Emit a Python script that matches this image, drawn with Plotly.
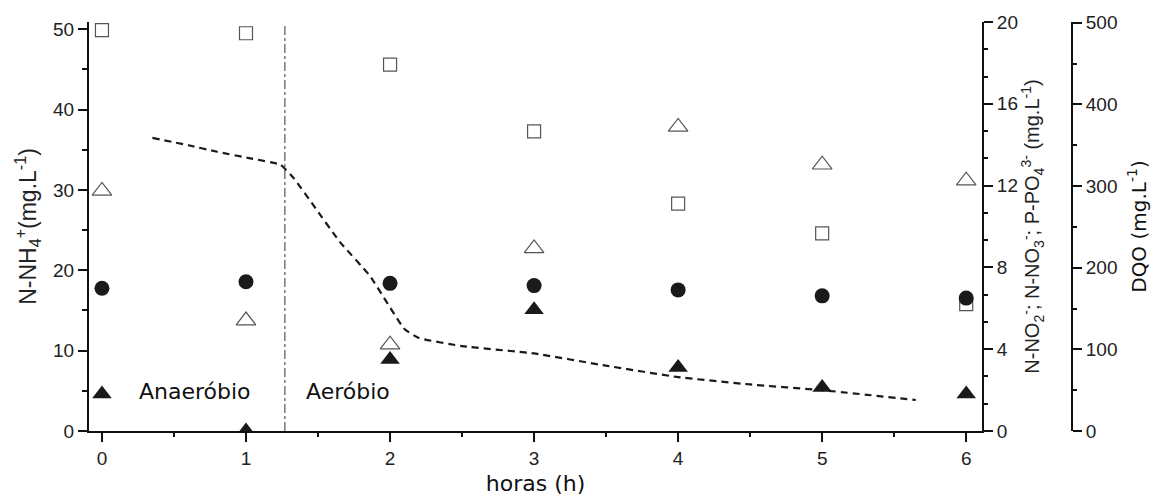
import plotly.graph_objects as go

# ---------------- data ----------------
horas = [0, 1, 2, 3, 4, 5, 6]
n_nh4 = [49.9, 49.5, 45.6, 37.3, 28.3, 24.6, 15.8]          # open squares (left axis)
n_no2 = [1.81, 0.0, 3.50, 5.93, 3.10, 2.13, 1.81]            # filled triangles (right axis)
n_no3 = [11.74, 5.40, 4.22, 8.93, 14.87, 13.02, 12.24]       # open triangles (right axis)
p_po4 = [6.98, 7.30, 7.22, 7.11, 6.90, 6.61, 6.50]           # filled circles (right axis)

dqo_t = [0.35, 0.60, 0.80, 1.03, 1.24, 1.33, 1.47, 1.65, 1.86, 2.10, 2.20,
         2.50, 3.00, 3.50, 4.00, 4.50, 5.00, 5.65]
dqo = [359, 350, 342, 334, 326, 310, 276, 232, 190, 125, 114,
       104, 95, 80, 66, 57, 50, 38]

fase_limite = 1.27
fase_labels = ["Anaeróbio", "Aeróbio"]

x_ticks = [0, 1, 2, 3, 4, 5, 6]

# ---------------- figure ----------------
fig = go.Figure()

fill_col = "#1a1a1a"
open_col = "#555555"

fig.add_trace(go.Scatter(x=horas, y=n_nh4, mode="markers", name="N-NH4+",
                         marker=dict(symbol="square-open", size=13, color=open_col,
                                     line=dict(width=1.2, color=open_col)),
                         yaxis="y"))
fig.add_trace(go.Scatter(x=horas, y=n_no3, mode="markers", name="N-NO3-",
                         marker=dict(symbol="triangle-up-open", size=17, color=open_col,
                                     line=dict(width=1.2, color=open_col)),
                         yaxis="y2"))
fig.add_trace(go.Scatter(x=horas, y=p_po4, mode="markers", name="P-PO4",
                         marker=dict(symbol="circle", size=15, color=fill_col,
                                     line=dict(width=0)),
                         yaxis="y2"))
fig.add_trace(go.Scatter(x=horas, y=n_no2, mode="markers", name="N-NO2-",
                         marker=dict(symbol="triangle-up", size=17, color=fill_col,
                                     line=dict(width=0)),
                         yaxis="y2"))
fig.add_trace(go.Scatter(x=dqo_t, y=dqo, mode="lines", name="DQO",
                         line=dict(color="#1a1a1a", width=2.2, dash="7px,5px",
                                   shape="spline", smoothing=0.4),
                         yaxis="y3"))

tick_font = dict(family="Liberation Sans, Arial, sans-serif", size=19, color="#222222")
axis_common = dict(showline=True, linewidth=2, linecolor="#111111",
                   ticks="outside", ticklen=9, tickwidth=2, tickcolor="#111111",
                   showgrid=False, zeroline=False, tickfont=tick_font)

fig.update_layout(
    width=1162, height=504,
    margin=dict(l=89, r=90, t=18, b=69),
    paper_bgcolor="white", plot_bgcolor="white",
    showlegend=False,
    font=dict(family="Liberation Sans, Arial, sans-serif", color="#222222"),
    xaxis=dict(domain=[0, 0.9085], range=[-0.09, 6.11], tickmode="array",
               tickvals=x_ticks, ticktext=[str(v) for v in x_ticks],
               minor=dict(dtick=0.5, tick0=0, ticks="outside", ticklen=4, tickwidth=2,
                          tickcolor="#111111"),
               title=dict(text="horas (h)", standoff=8,
                          font=dict(family="DejaVu Sans", size=22, color="#111111")),
               anchor="y", **axis_common),
    yaxis=dict(range=[0, 50.9], dtick=10, tick0=0,
               minor=dict(dtick=5, tick0=0, ticks="outside", ticklen=5, tickwidth=2,
                          tickcolor="#111111"),
               title=dict(text="N-NH<sub>4</sub><sup>+</sup>(mg.L<sup>-1</sup>)", standoff=10,
                          font=dict(family="Liberation Sans, Arial", size=23, color="#222222")),
               **axis_common),
    yaxis2=dict(range=[0, 20], dtick=4, tick0=0, overlaying="y", side="right", anchor="x",
                minor=dict(dtick=4/3, tick0=0, ticks="outside", ticklen=4, tickwidth=2,
                           tickcolor="#111111"),
                title=dict(text="N-NO<sub>2</sub><sup>-</sup>; N-NO<sub>3</sub><sup>-</sup>; "
                                "P-PO<sub>4</sub><sup>3-</sup> (mg.L<sup>-1</sup>)",
                           standoff=6,
                           font=dict(family="Liberation Sans, Arial", size=20, color="#222222")),
                **axis_common),
    yaxis3=dict(range=[0, 501], dtick=100, tick0=0, overlaying="y", side="right",
                anchor="free", position=1.0,
                minor=dict(dtick=50, tick0=0, ticks="outside", ticklen=4, tickwidth=2,
                           tickcolor="#111111"),
                title=dict(text="DQO (mg.L<sup>-1</sup>)", standoff=14,
                           font=dict(family="DejaVu Sans", size=20, color="#111111")),
                **axis_common),
    shapes=[dict(type="line", xref="x", yref="paper", x0=fase_limite, x1=fase_limite,
                 y0=0, y1=0.995, line=dict(color="#333333", width=1, dash="dashdot"))],
    annotations=[
        dict(x=0.24, y=4.9, xref="x", yref="y", text=fase_labels[0], showarrow=False,
             xanchor="left", yanchor="middle",
             font=dict(family="DejaVu Sans", size=22, color="#111111")),
        dict(x=1.40, y=4.9, xref="x", yref="y", text=fase_labels[1], showarrow=False,
             xanchor="left", yanchor="middle",
             font=dict(family="DejaVu Sans", size=22, color="#111111")),
    ],
)

fig.write_html("out.html", config={"displayModeBar": False},
               post_script="document.body.style.margin='0';")
